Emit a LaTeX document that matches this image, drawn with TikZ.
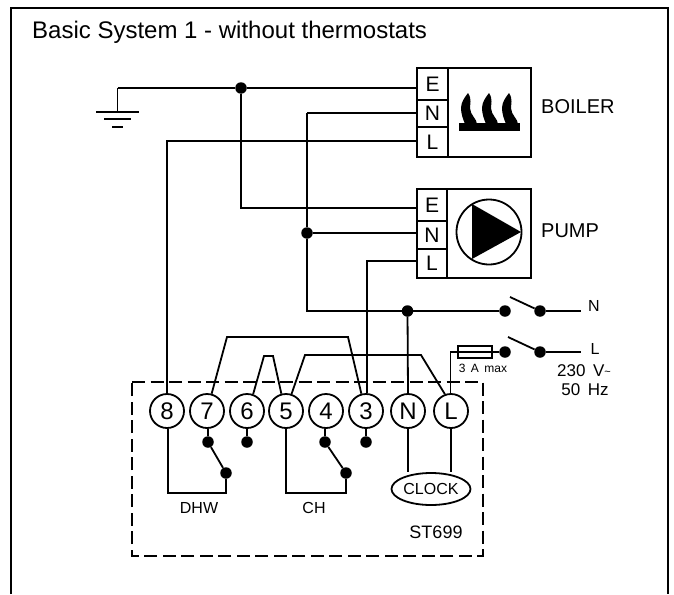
\documentclass[tikz,border=0pt]{standalone}
\usepackage{fontspec}
\setmainfont{Liberation Sans}
\usetikzlibrary{calc,shapes.geometric}
\newcommand{\fsz}[1]{\fontsize{#1}{#1}\selectfont}
\tikzset{
  wire/.style={line width=1.8pt,line join=miter},
  term/.style={circle,draw,line width=1.8pt,fill=white,minimum size=34pt,inner sep=0pt,font=\fsz{24}},
  dotn/.style={circle,fill=black,minimum size=11.5pt,inner sep=0pt},
  cell/.style={rectangle,draw,line width=1.8pt,inner sep=0pt,font=\fsz{21}},
  unit/.style={rectangle,draw,line width=1.8pt,inner sep=0pt},
  lab/.style={inner sep=0pt,anchor=base west},
}
\begin{document}
\begin{tikzpicture}[x=1pt,y=-1pt]
\useasboundingbox (0,0) rectangle (674,594);
\fill[white] (0,0) rectangle (674,594);
% frame
\draw[line width=2.2pt] (11,594) -- (11,8) -- (668,8) -- (668,594);
\node[lab,font=\fsz{24}] (title) at (32,39) {Basic System 1 - without thermostats};

% boiler
\node[unit,minimum width=114pt,minimum height=89pt] (boiler) at (474,112.5) {};
\node[cell,minimum width=31pt,minimum height=32pt] (bE) at (432.5,84) {E};
\node[cell,minimum width=31pt,minimum height=27pt] (bN) at (432.5,113.5) {N};
\node[cell,minimum width=31pt,minimum height=30pt] (bL) at (432.5,142) {L};
\fill (459,123) rectangle (520,131);
\foreach \x in {468,489,509}{
  \fill[shift={(\x,123)}] (0,-30) .. controls (-3,-26) and (-7,-21) .. (-7,-15)
     .. controls (-7,-9) and (-5,-4) .. (-3,1) -- (9,1)
     .. controls (9,-4) and (2,-8) .. (2,-15)
     .. controls (2,-19) and (4,-24) .. (0,-30) -- cycle;
}
\node[lab,font=\fsz{20}] (boilerlab) at (541,113) {BOILER};

% pump
\node[unit,minimum width=114pt,minimum height=89pt] (pump) at (474,233.5) {};
\node[cell,minimum width=30pt,minimum height=32pt] (pE) at (432,205) {E};
\node[cell,minimum width=30pt,minimum height=28pt] (pN) at (432,235) {N};
\node[cell,minimum width=30pt,minimum height=29pt] (pL) at (432,263.5) {L};
\node[circle,draw,line width=1.8pt,minimum size=65pt,inner sep=0pt] (pumpc) at (489,232) {};
\fill (472,204) -- (521,232) -- (472,259) -- cycle;
\node[lab,font=\fsz{20}] (pumplab) at (541,237) {PUMP};

% earth
\coordinate (g0) at (117.5,88);
\coordinate (g1) at (117.5,112);
\draw[wire] (g1) -- (g0);
\draw[line width=1.8pt] (96,112) -- (139,112) (104,119) -- (131,119) (112,127) -- (123,127);
\node[dotn] (jE) at (241,88) {};
\draw[wire] (g0) -- (jE) -- (bE.west |- jE);
\coordinate (pEc) at (241,208);
\draw[wire] (jE) -- (pEc) -- (pE.west |- pEc);

% terminals
\foreach \n/\x/\t in {t8/167/8,t7/207/7,t6/247/6,t5/286/5,t4/326/4,t3/366/3,tN/408/N,tL/451/L}
  \node[term] (\n) at (\x,411) {\t};

% neutral
\coordinate (bNc) at (307,113);
\node[dotn] (jPN) at (307,233) {};
\coordinate (Nc) at (307,311);
\node[dotn] (jN) at (407.5,311) {};
\node[dotn] (Ns1) at (505,311) {};
\node[dotn] (Ns2) at (540,311) {};
\coordinate (Nend) at (581,311);
\coordinate (Nbl) at (510,297);
\draw[wire] (bNc) -- (bN.west |- bNc);
\draw[wire] (bNc) -- (jPN) -- (Nc) -- (jN) -- (Ns1);
\draw[wire] (jPN) -- (pN.west |- jPN);
\draw[wire] (jN) -- (tN.north);
\draw[wire] (Ns2) -- (Nend);
\draw[wire] (Nbl) -- (Ns2);

% live
\coordinate (bLc) at (167,141);
\draw[wire] (t8.north) -- (bLc) -- (bL.west |- bLc);
\coordinate (pLc) at (367,261);
\draw[wire] (t3.north -| pLc) -- (pLc) -- (pL.west |- pLc);

% dashed enclosure
\draw[line width=1.6pt,dash pattern=on 13pt off 5.5pt] (132,382) -- (483,382) -- (483,556) -- (132,556) -- cycle;

% jumpers
\coordinate (a1) at (227,337); \coordinate (a2) at (348,337);
\draw[wire] (t7.75) -- (a1) -- (a2) -- (t3.105);
\coordinate (b1) at (264,356); \coordinate (b2) at (273,356);
\draw[wire] (t6.70) -- (b1) -- (b2) -- (t5.105);
\coordinate (c1) at (305,355); \coordinate (c2) at (421,355);
\draw[wire] (t5.72) -- (c1) -- (c2) -- (tL.110);

% fuse & L supply
\coordinate (Lc) at (450.5,352);
\node[dotn] (Ls1) at (505,352) {};
\node[dotn] (Ls2) at (540,352) {};
\coordinate (Lend) at (581,352);
\coordinate (Lbl) at (508,337);
\draw[line width=1.4pt] (tL.north -| Lc) -- (Lc) -- (Ls1);
\node[rectangle,draw,line width=1.6pt,minimum width=34pt,minimum height=12pt,inner sep=0pt] (fuse) at (475,352) {};
\draw[wire] (Ls2) -- (Lend);
\draw[wire] (Lbl) -- (Ls2);

% inside contacts
\node[dotn] (d7) at (208,442) {};
\node[dotn] (s7) at (226,473) {};
\node[dotn] (d6) at (247,442) {};
\node[dotn] (d4) at (325,442) {};
\node[dotn] (s4) at (346,473) {};
\node[dotn] (d3) at (366,442) {};
\draw[wire] (t7.south -| d7) -- (d7) -- (s7);
\draw[wire] (t6.south) -- (d6);
\draw[wire] (t4.south -| d4) -- (d4) -- (s4);
\draw[wire] (t3.south) -- (d3);
\coordinate (e1) at (168,493); \coordinate (e2) at (226,493);
\draw[wire] (t8.south -| e1) -- (e1) -- (e2) -- (s7);
\coordinate (f1) at (286,493); \coordinate (f2) at (346,493);
\draw[wire] (t5.south) -- (f1) -- (f2) -- (s4);

% clock
\node[ellipse,draw,line width=1.8pt,minimum width=79pt,minimum height=32pt,inner sep=0pt,font=\fsz{16}] (clock) at (431,489) {CLOCK};
\draw[wire] (tN.south) -- (clock.north -| tN);
\draw[wire] (tL.south) -- (clock.north -| tL);

% labels
\node[font=\fsz{16},inner sep=0pt] (dhw) at (199,508) {DHW};
\node[font=\fsz{16},inner sep=0pt] (ch) at (314,508) {CH};
\node[font=\fsz{18},inner sep=0pt] (st) at (436,532) {ST699};
\node[font=\fsz{12},inner sep=0pt] (amax) at (483,368) {3\, A\, max};
\node[font=\fsz{16},inner sep=0pt] (lN) at (594,306) {N};
\node[font=\fsz{16},inner sep=0pt] (lL) at (595,349) {L};
\node[font=\fsz{17},inner sep=0pt] (v) at (584,371) {230\, V\raisebox{1pt}{\fsz{11}\char`\~}};
\node[font=\fsz{17},inner sep=0pt] (hz) at (585,390) {50\, Hz};
\end{tikzpicture}
\end{document}
